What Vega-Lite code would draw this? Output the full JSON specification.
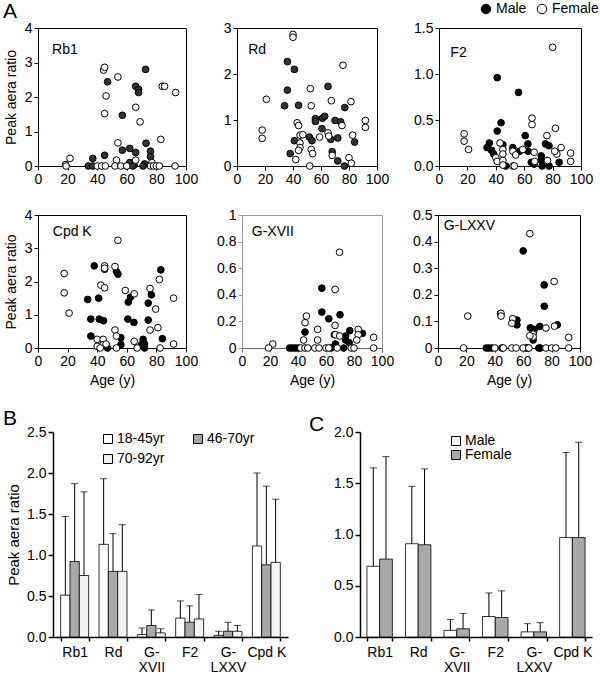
{
  "$schema": "https://vega.github.io/schema/vega-lite/v6.json",
  "padding": {"left": 2, "top": 0, "right": 0, "bottom": 0},
  "config": {
    "font": "Liberation Sans",
    "view": {"stroke": null},
    "axis": {"grid": false, "domainColor": "black", "tickColor": "black", "labelColor": "black", "titleColor": "black", "labelFontSize": 14, "titleFontSize": 14, "titleFontWeight": "normal", "tickSize": 4, "labelFlush": false, "labelOverlap": false, "labelPadding": 2, "labelFont": "Liberation Sans", "titleFont": "Liberation Sans"},
    "legend": {"labelFont": "Liberation Sans", "labelColor": "black", "labelFontSize": 14, "padding": 0},
    "title": {"font": "Liberation Sans", "fontWeight": "normal", "color": "black"}
  },
  "datasets": {
    "rb1": [
      {"sex":"Male","age":72.7,"ratio":2.80},{"sex":"Male","age":47,"ratio":2.44},{"sex":"Male","age":66,"ratio":2.31},{"sex":"Male","age":68,"ratio":2.22},{"sex":"Male","age":68,"ratio":2.13},{"sex":"Male","age":57,"ratio":1.47},{"sex":"Male","age":73,"ratio":0.66},{"sex":"Male","age":62,"ratio":0.51},{"sex":"Male","age":57,"ratio":0.46},{"sex":"Male","age":66,"ratio":0.39},{"sex":"Male","age":76,"ratio":0.43},{"sex":"Male","age":76,"ratio":0.27},{"sex":"Male","age":37,"ratio":0.22},{"sex":"Male","age":45,"ratio":0.31},{"sex":"Male","age":62,"ratio":0.10},{"sex":"Male","age":65,"ratio":0.03},{"sex":"Male","age":72,"ratio":0.06},{"sex":"Male","age":34,"ratio":0},{"sex":"Male","age":37,"ratio":0},{"sex":"Male","age":60,"ratio":0},{"sex":"Male","age":64,"ratio":0},{"sex":"Male","age":71,"ratio":0},
      {"sex":"Female","age":44.3,"ratio":2.78},{"sex":"Female","age":45,"ratio":2.86},{"sex":"Female","age":54,"ratio":2.58},{"sex":"Female","age":46,"ratio":2.03},{"sex":"Female","age":45,"ratio":1.52},{"sex":"Female","age":66,"ratio":1.70},{"sex":"Female","age":69,"ratio":1.28},{"sex":"Female","age":84,"ratio":2.31},{"sex":"Female","age":85.5,"ratio":2.31},{"sex":"Female","age":93,"ratio":2.13},{"sex":"Female","age":83,"ratio":0.77},{"sex":"Female","age":54,"ratio":0.67},{"sex":"Female","age":21.6,"ratio":0.22},{"sex":"Female","age":18.6,"ratio":0.04},{"sex":"Female","age":53,"ratio":0.17},{"sex":"Female","age":66,"ratio":0.17},{"sex":"Female","age":77,"ratio":0.10},{"sex":"Female","age":19,"ratio":0},{"sex":"Female","age":40,"ratio":0},{"sex":"Female","age":43,"ratio":0},{"sex":"Female","age":45.5,"ratio":0},{"sex":"Female","age":52,"ratio":0},{"sex":"Female","age":56,"ratio":0},{"sex":"Female","age":60,"ratio":0},{"sex":"Female","age":76,"ratio":0},{"sex":"Female","age":78,"ratio":0},{"sex":"Female","age":80,"ratio":0},{"sex":"Female","age":82,"ratio":0},{"sex":"Female","age":92.6,"ratio":0}
    ],
    "rd": [
      {"sex":"Male","age":36,"ratio":2.27},{"sex":"Male","age":41,"ratio":2.10},{"sex":"Male","age":36,"ratio":1.65},{"sex":"Male","age":34,"ratio":1.31},{"sex":"Male","age":44,"ratio":1.32},{"sex":"Male","age":65,"ratio":1.73},{"sex":"Male","age":77,"ratio":1.27},{"sex":"Male","age":56,"ratio":1.03},{"sex":"Male","age":56,"ratio":0.97},{"sex":"Male","age":61,"ratio":1.04},{"sex":"Male","age":62.6,"ratio":1.08},{"sex":"Male","age":70,"ratio":0.99},{"sex":"Male","age":74,"ratio":0.96},{"sex":"Male","age":60.7,"ratio":0.81},{"sex":"Male","age":41,"ratio":0.55},{"sex":"Male","age":51.7,"ratio":0.63},{"sex":"Male","age":53.6,"ratio":0.55},{"sex":"Male","age":67,"ratio":0.58},{"sex":"Male","age":72,"ratio":0.61},{"sex":"Male","age":84,"ratio":0.52},{"sex":"Male","age":38,"ratio":0.27},{"sex":"Male","age":68,"ratio":0.31},{"sex":"Male","age":72,"ratio":0.11},{"sex":"Male","age":76.7,"ratio":0},
      {"sex":"Female","age":40,"ratio":2.86},{"sex":"Female","age":40,"ratio":2.80},{"sex":"Female","age":75.7,"ratio":2.19},{"sex":"Female","age":21,"ratio":1.45},{"sex":"Female","age":52.4,"ratio":1.68},{"sex":"Female","age":53,"ratio":1.31},{"sex":"Female","age":67.4,"ratio":1.42},{"sex":"Female","age":81.4,"ratio":1.40},{"sex":"Female","age":18,"ratio":0.78},{"sex":"Female","age":18,"ratio":0.60},{"sex":"Female","age":91.7,"ratio":0.99},{"sex":"Female","age":91.7,"ratio":0.84},{"sex":"Female","age":43,"ratio":0.94},{"sex":"Female","age":44,"ratio":0.88},{"sex":"Female","age":75,"ratio":0.88},{"sex":"Female","age":45,"ratio":0.67},{"sex":"Female","age":47,"ratio":0.68},{"sex":"Female","age":45,"ratio":0.50},{"sex":"Female","age":45,"ratio":0.40},{"sex":"Female","age":44,"ratio":0.34},{"sex":"Female","age":53,"ratio":0.36},{"sex":"Female","age":54,"ratio":0.27},{"sex":"Female","age":42,"ratio":0.14},{"sex":"Female","age":59,"ratio":0.63},{"sex":"Female","age":65,"ratio":0.72},{"sex":"Female","age":65.5,"ratio":0.65},{"sex":"Female","age":68,"ratio":0.23},{"sex":"Female","age":82.6,"ratio":0.67},{"sex":"Female","age":80,"ratio":0.18},{"sex":"Female","age":81.7,"ratio":0.06},{"sex":"Female","age":52,"ratio":0}
    ],
    "f2": [
      {"sex":"Male","age":41,"ratio":0.96},{"sex":"Male","age":56,"ratio":0.80},{"sex":"Male","age":43.7,"ratio":0.47},{"sex":"Male","age":41,"ratio":0.38},{"sex":"Male","age":60.7,"ratio":0.33},{"sex":"Male","age":35.5,"ratio":0.25},{"sex":"Male","age":33.8,"ratio":0.20},{"sex":"Male","age":37,"ratio":0.17},{"sex":"Male","age":38.5,"ratio":0.13},{"sex":"Male","age":45,"ratio":0.23},{"sex":"Male","age":52,"ratio":0.20},{"sex":"Male","age":62.6,"ratio":0.24},{"sex":"Male","age":62.6,"ratio":0.16},{"sex":"Male","age":56.7,"ratio":0.16},{"sex":"Male","age":75,"ratio":0.24},{"sex":"Male","age":77.5,"ratio":0.22},{"sex":"Male","age":72,"ratio":0.11},{"sex":"Male","age":72,"ratio":0.06},{"sex":"Male","age":65,"ratio":0.04},{"sex":"Male","age":67,"ratio":0.02},{"sex":"Male","age":47,"ratio":0},{"sex":"Male","age":72.6,"ratio":0},{"sex":"Male","age":77.5,"ratio":0},{"sex":"Male","age":84.6,"ratio":0.04},
      {"sex":"Female","age":80,"ratio":1.29},{"sex":"Female","age":17.7,"ratio":0.35},{"sex":"Female","age":17.7,"ratio":0.27},{"sex":"Female","age":20.8,"ratio":0.18},{"sex":"Female","age":65.5,"ratio":0.52},{"sex":"Female","age":65.5,"ratio":0.45},{"sex":"Female","age":82,"ratio":0.41},{"sex":"Female","age":76,"ratio":0.33},{"sex":"Female","age":86,"ratio":0.20},{"sex":"Female","age":83,"ratio":0.13},{"sex":"Female","age":92.7,"ratio":0.14},{"sex":"Female","age":92.7,"ratio":0.05},{"sex":"Female","age":43,"ratio":0.25},{"sex":"Female","age":45,"ratio":0.18},{"sex":"Female","age":45,"ratio":0.13},{"sex":"Female","age":40,"ratio":0.09},{"sex":"Female","age":41,"ratio":0.05},{"sex":"Female","age":45,"ratio":0.06},{"sex":"Female","age":45,"ratio":0.01},{"sex":"Female","age":52,"ratio":0.16},{"sex":"Female","age":54,"ratio":0.12},{"sex":"Female","age":59,"ratio":0.18},{"sex":"Female","age":67,"ratio":0.15},{"sex":"Female","age":67.4,"ratio":0.05},{"sex":"Female","age":76.4,"ratio":0.06},{"sex":"Female","age":52,"ratio":0},{"sex":"Female","age":53,"ratio":0},{"sex":"Female","age":81.5,"ratio":0.16}
    ],
    "cpdk": [
      {"sex":"Male","age":38,"ratio":2.47},{"sex":"Male","age":45,"ratio":2.37},{"sex":"Male","age":53,"ratio":2.30},{"sex":"Male","age":54,"ratio":2.22},{"sex":"Male","age":83,"ratio":2.35},{"sex":"Male","age":33.6,"ratio":1.46},{"sex":"Male","age":41,"ratio":1.50},{"sex":"Male","age":61,"ratio":1.38},{"sex":"Male","age":62.5,"ratio":1.53},{"sex":"Male","age":74.5,"ratio":1.35},{"sex":"Male","age":76.6,"ratio":1.60},{"sex":"Male","age":35.7,"ratio":0.87},{"sex":"Male","age":41.4,"ratio":0.87},{"sex":"Male","age":44.3,"ratio":0.82},{"sex":"Male","age":60.7,"ratio":0.87},{"sex":"Male","age":64.8,"ratio":0.77},{"sex":"Male","age":74.5,"ratio":0.84},{"sex":"Male","age":35.7,"ratio":0.36},{"sex":"Male","age":56,"ratio":0.31},{"sex":"Male","age":56,"ratio":0.10},{"sex":"Male","age":47,"ratio":0},{"sex":"Male","age":71,"ratio":0.26},{"sex":"Male","age":72,"ratio":0.12},{"sex":"Male","age":70,"ratio":0.10},{"sex":"Male","age":72,"ratio":0},{"sex":"Male","age":84,"ratio":0.28},
      {"sex":"Female","age":54,"ratio":3.24},{"sex":"Female","age":17.7,"ratio":2.24},{"sex":"Female","age":17.7,"ratio":1.66},{"sex":"Female","age":21,"ratio":1.05},{"sex":"Female","age":45,"ratio":2.47},{"sex":"Female","age":45,"ratio":2.40},{"sex":"Female","age":52,"ratio":2.45},{"sex":"Female","age":42.5,"ratio":1.89},{"sex":"Female","age":45,"ratio":1.81},{"sex":"Female","age":59,"ratio":1.73},{"sex":"Female","age":65,"ratio":1.63},{"sex":"Female","age":82,"ratio":2.06},{"sex":"Female","age":75.7,"ratio":1.79},{"sex":"Female","age":79.5,"ratio":1.17},{"sex":"Female","age":91.6,"ratio":1.50},{"sex":"Female","age":75.7,"ratio":0.54},{"sex":"Female","age":52,"ratio":0.54},{"sex":"Female","age":53,"ratio":0.36},{"sex":"Female","age":81,"ratio":0.61},{"sex":"Female","age":40,"ratio":0.26},{"sex":"Female","age":44,"ratio":0.26},{"sex":"Female","age":44,"ratio":0.10},{"sex":"Female","age":40,"ratio":0.05},{"sex":"Female","age":46,"ratio":0.12},{"sex":"Female","age":42,"ratio":0},{"sex":"Female","age":53,"ratio":0},{"sex":"Female","age":65,"ratio":0.20},{"sex":"Female","age":67,"ratio":0},{"sex":"Female","age":82.5,"ratio":0},{"sex":"Female","age":91.6,"ratio":0.12}
    ],
    "gxvii": [
      {"sex":"Male","age":57,"ratio":0.45},{"sex":"Male","age":57,"ratio":0.27},{"sex":"Male","age":70,"ratio":0.25},{"sex":"Male","age":62,"ratio":0.22},{"sex":"Male","age":45,"ratio":0.12},{"sex":"Male","age":66,"ratio":0.10},{"sex":"Male","age":77,"ratio":0.13},{"sex":"Male","age":74,"ratio":0.09},{"sex":"Male","age":74,"ratio":0.06},{"sex":"Male","age":76.5,"ratio":0.04},{"sex":"Male","age":86,"ratio":0.11},{"sex":"Male","age":66.7,"ratio":0.03},{"sex":"Male","age":63.6,"ratio":0},{"sex":"Male","age":72.6,"ratio":0},{"sex":"Male","age":34,"ratio":0},{"sex":"Male","age":36,"ratio":0},{"sex":"Male","age":38,"ratio":0},{"sex":"Male","age":40,"ratio":0},
      {"sex":"Female","age":69.7,"ratio":0.72},{"sex":"Female","age":66.5,"ratio":0.44},{"sex":"Female","age":46,"ratio":0.24},{"sex":"Female","age":45,"ratio":0.19},{"sex":"Female","age":44,"ratio":0.06},{"sex":"Female","age":54,"ratio":0.14},{"sex":"Female","age":54,"ratio":0.06},{"sex":"Female","age":66.5,"ratio":0.17},{"sex":"Female","age":66.7,"ratio":0.10},{"sex":"Female","age":69.7,"ratio":0.09},{"sex":"Female","age":83,"ratio":0.14},{"sex":"Female","age":83,"ratio":0.10},{"sex":"Female","age":82,"ratio":0.06},{"sex":"Female","age":94,"ratio":0.08},{"sex":"Female","age":94,"ratio":0},{"sex":"Female","age":22,"ratio":0.03},{"sex":"Female","age":19,"ratio":0},{"sex":"Female","age":42,"ratio":0},{"sex":"Female","age":45,"ratio":0},{"sex":"Female","age":47,"ratio":0},{"sex":"Female","age":52,"ratio":0},{"sex":"Female","age":55,"ratio":0},{"sex":"Female","age":60,"ratio":0},{"sex":"Female","age":62,"ratio":0},{"sex":"Female","age":68,"ratio":0},{"sex":"Female","age":78,"ratio":0},{"sex":"Female","age":80,"ratio":0}
    ],
    "glxxv": [
      {"sex":"Male","age":60,"ratio":0.365},{"sex":"Male","age":74.8,"ratio":0.237},{"sex":"Male","age":74.8,"ratio":0.157},{"sex":"Male","age":44,"ratio":0.13},{"sex":"Male","age":55.6,"ratio":0.105},{"sex":"Male","age":55.6,"ratio":0.087},{"sex":"Male","age":65,"ratio":0.076},{"sex":"Male","age":67.8,"ratio":0.07},{"sex":"Male","age":67,"ratio":0.064},{"sex":"Male","age":71.7,"ratio":0.081},{"sex":"Male","age":84,"ratio":0.087},{"sex":"Male","age":67,"ratio":0.03},{"sex":"Male","age":34,"ratio":0},{"sex":"Male","age":36,"ratio":0},{"sex":"Male","age":38,"ratio":0},{"sex":"Male","age":45,"ratio":0},{"sex":"Male","age":62,"ratio":0},{"sex":"Male","age":63,"ratio":0},{"sex":"Male","age":71,"ratio":0},{"sex":"Male","age":72,"ratio":0},
      {"sex":"Female","age":64.7,"ratio":0.43},{"sex":"Female","age":81.8,"ratio":0.25},{"sex":"Female","age":21,"ratio":0.12},{"sex":"Female","age":44.4,"ratio":0.13},{"sex":"Female","age":44.4,"ratio":0.12},{"sex":"Female","age":52.6,"ratio":0.11},{"sex":"Female","age":52,"ratio":0.093},{"sex":"Female","age":82,"ratio":0.082},{"sex":"Female","age":76,"ratio":0.075},{"sex":"Female","age":92,"ratio":0.04},{"sex":"Female","age":67,"ratio":0.052},{"sex":"Female","age":67,"ratio":0.042},{"sex":"Female","age":64.7,"ratio":0.046},{"sex":"Female","age":18,"ratio":0},{"sex":"Female","age":40,"ratio":0},{"sex":"Female","age":46,"ratio":0},{"sex":"Female","age":52,"ratio":0},{"sex":"Female","age":55,"ratio":0},{"sex":"Female","age":60,"ratio":0},{"sex":"Female","age":64,"ratio":0},{"sex":"Female","age":76,"ratio":0},{"sex":"Female","age":80,"ratio":0},{"sex":"Female","age":83,"ratio":0},{"sex":"Female","age":92,"ratio":0}
    ],
    "byage": [
      {"cat":"Rb1","group":"18-45yr","mean":0.51,"upper":1.47},{"cat":"Rb1","group":"46-70yr","mean":0.92,"upper":1.87},{"cat":"Rb1","group":"70-92yr","mean":0.75,"upper":1.77},
      {"cat":"Rd","group":"18-45yr","mean":1.13,"upper":1.93},{"cat":"Rd","group":"46-70yr","mean":0.80,"upper":1.26},{"cat":"Rd","group":"70-92yr","mean":0.80,"upper":1.37},
      {"cat":"G-XVII","group":"18-45yr","mean":0.03,"upper":0.11},{"cat":"G-XVII","group":"46-70yr","mean":0.14,"upper":0.33},{"cat":"G-XVII","group":"70-92yr","mean":0.05,"upper":0.10},
      {"cat":"F2","group":"18-45yr","mean":0.23,"upper":0.44},{"cat":"F2","group":"46-70yr","mean":0.18,"upper":0.38},{"cat":"F2","group":"70-92yr","mean":0.22,"upper":0.52},
      {"cat":"G-LXXV","group":"18-45yr","mean":0.02,"upper":0.07},{"cat":"G-LXXV","group":"46-70yr","mean":0.07,"upper":0.18},{"cat":"G-LXXV","group":"70-92yr","mean":0.07,"upper":0.14},
      {"cat":"Cpd K","group":"18-45yr","mean":1.11,"upper":2.0},{"cat":"Cpd K","group":"46-70yr","mean":0.88,"upper":1.84},{"cat":"Cpd K","group":"70-92yr","mean":0.91,"upper":1.68}
    ],
    "bysex": [
      {"cat":"Rb1","sex":"Male","mean":0.69,"upper":1.65},{"cat":"Rb1","sex":"Female","mean":0.76,"upper":1.76},
      {"cat":"Rd","sex":"Male","mean":0.91,"upper":1.47},{"cat":"Rd","sex":"Female","mean":0.90,"upper":1.64},
      {"cat":"G-XVII","sex":"Male","mean":0.065,"upper":0.17},{"cat":"G-XVII","sex":"Female","mean":0.08,"upper":0.23},
      {"cat":"F2","sex":"Male","mean":0.20,"upper":0.43},{"cat":"F2","sex":"Female","mean":0.19,"upper":0.45},
      {"cat":"G-LXXV","sex":"Male","mean":0.05,"upper":0.13},{"cat":"G-LXXV","sex":"Female","mean":0.05,"upper":0.14},
      {"cat":"Cpd K","sex":"Male","mean":0.97,"upper":1.80},{"cat":"Cpd K","sex":"Female","mean":0.97,"upper":1.90}
    ]
  },
  "columns": 1,
  "align": "none",
  "spacing": 20,
  "resolve": {"scale": {"fill": "independent", "x": "independent", "y": "independent", "xOffset": "independent"}, "legend": {"fill": "independent"}},
  "concat": [
    {
      "spacing": 23,
      "resolve": {"scale": {"fill": "independent", "x": "independent", "y": "independent"}, "legend": {"fill": "independent"}},
      "hconcat": [
        {
          "width": 148, "height": 138,
          "view": {"stroke": "black"},
          "title": {"text": "A", "anchor": "start", "frame": "group", "dx": -35, "fontSize": 21, "offset": -1},
          "layer": [
            {"data": {"name": "rb1"}, "mark": {"type": "point", "filled": true, "size": 45, "opacity": 1, "stroke": "black", "strokeWidth": 1},
             "encoding": {
               "x": {"field": "age", "type": "quantitative", "scale": {"domain": [0, 100], "nice": false}, "axis": {"values": [0, 20, 40, 60, 80, 100], "title": null, "labelOverlap": false}},
               "y": {"field": "ratio", "type": "quantitative", "scale": {"domain": [0, 4], "nice": false}, "axis": {"values": [0, 1, 2, 3, 4], "title": "Peak aera ratio", "titlePadding": 6, "labelOverlap": false}},
               "fill": {"field": "sex", "type": "nominal", "scale": {"domain": ["Male", "Female"], "range": ["#333333", "white"]}, "legend": null}}},
            {"data": {"values": [{"panel": "Rb1"}]}, "mark": {"type": "text", "align": "left", "baseline": "middle", "fontSize": 14},
             "encoding": {"x": {"datum": 9.5, "type": "quantitative", "axis": {"values": [0, 20, 40, 60, 80, 100], "title": null, "labelOverlap": false}}, "y": {"datum": 3.36, "type": "quantitative", "axis": {"values": [0, 1, 2, 3, 4], "title": "Peak aera ratio", "titlePadding": 6, "labelOverlap": false}}, "text": {"field": "panel"}}}
          ]
        },
        {
          "width": 140, "height": 138,
          "view": {"stroke": "black"},
          "layer": [
            {"data": {"name": "rd"}, "mark": {"type": "point", "filled": true, "size": 45, "opacity": 1, "stroke": "black", "strokeWidth": 1},
             "encoding": {
               "x": {"field": "age", "type": "quantitative", "scale": {"domain": [0, 100], "nice": false}, "axis": {"values": [0, 20, 40, 60, 80, 100], "title": null, "labelOverlap": false}},
               "y": {"field": "ratio", "type": "quantitative", "scale": {"domain": [0, 3], "nice": false}, "axis": {"values": [0, 1, 2, 3], "title": null, "labelOverlap": false}},
               "fill": {"field": "sex", "type": "nominal", "scale": {"domain": ["Male", "Female"], "range": ["#333333", "white"]}, "legend": null}}},
            {"data": {"values": [{"panel": "Rd"}]}, "mark": {"type": "text", "align": "left", "baseline": "middle", "fontSize": 14},
             "encoding": {"x": {"datum": 8, "type": "quantitative", "axis": {"values": [0, 20, 40, 60, 80, 100], "title": null, "labelOverlap": false}}, "y": {"datum": 2.52, "type": "quantitative", "axis": {"values": [0, 1, 2, 3], "title": null, "labelOverlap": false}}, "text": {"field": "panel"}}}
          ]
        },
        {
          "width": 142, "height": 138,
          "view": {"stroke": "black"},
          "layer": [
            {"data": {"name": "f2"}, "mark": {"type": "point", "filled": true, "size": 45, "opacity": 1, "stroke": "black", "strokeWidth": 1},
             "encoding": {
               "x": {"field": "age", "type": "quantitative", "scale": {"domain": [0, 100], "nice": false}, "axis": {"values": [0, 20, 40, 60, 80, 100], "title": null, "labelOverlap": false}},
               "y": {"field": "ratio", "type": "quantitative", "scale": {"domain": [0, 1.5], "nice": false}, "axis": {"values": [0, 0.5, 1, 1.5], "format": ".1f", "title": null, "labelOverlap": false}},
               "fill": {"field": "sex", "type": "nominal", "scale": {"domain": ["Male", "Female"], "range": ["black", "white"]},
                        "legend": {"orient": "none", "legendX": 40, "legendY": -26, "direction": "horizontal", "title": null, "symbolType": "circle", "symbolSize": 90, "symbolStrokeColor": "black", "symbolStrokeWidth": 1, "labelFontSize": 14, "columnPadding": 8, "labelOffset": 3}}}},
            {"data": {"values": [{"panel": "F2"}]}, "mark": {"type": "text", "align": "left", "baseline": "middle", "fontSize": 14},
             "encoding": {"x": {"datum": 8, "type": "quantitative", "axis": {"values": [0, 20, 40, 60, 80, 100], "title": null, "labelOverlap": false}}, "y": {"datum": 1.23, "type": "quantitative", "axis": {"values": [0, 0.5, 1, 1.5], "format": ".1f", "title": null, "labelOverlap": false}}, "text": {"field": "panel"}}}
          ]
        }
      ]
    },
    {
      "spacing": 17,
      "resolve": {"scale": {"fill": "independent", "x": "independent", "y": "independent"}, "legend": {"fill": "independent"}},
      "hconcat": [
        {
          "width": 148, "height": 133,
          "view": {"stroke": "black"},
          "layer": [
            {"data": {"name": "cpdk"}, "mark": {"type": "point", "filled": true, "size": 45, "opacity": 1, "stroke": "black", "strokeWidth": 1},
             "encoding": {
               "x": {"field": "age", "type": "quantitative", "scale": {"domain": [0, 100], "nice": false}, "axis": {"values": [0, 20, 40, 60, 80, 100], "title": "Age (y)", "titlePadding": 5, "labelOverlap": false}},
               "y": {"field": "ratio", "type": "quantitative", "scale": {"domain": [0, 4], "nice": false}, "axis": {"values": [0, 1, 2, 3, 4], "title": "Peak aera ratio", "titlePadding": 6, "labelOverlap": false}},
               "fill": {"field": "sex", "type": "nominal", "scale": {"domain": ["Male", "Female"], "range": ["black", "white"]}, "legend": null}}},
            {"data": {"values": [{"panel": "Cpd K"}]}, "mark": {"type": "text", "align": "left", "baseline": "middle", "fontSize": 14},
             "encoding": {"x": {"datum": 10, "type": "quantitative", "axis": {"values": [0, 20, 40, 60, 80, 100], "title": "Age (y)", "titlePadding": 5, "labelOverlap": false}}, "y": {"datum": 3.49, "type": "quantitative", "axis": {"values": [0, 1, 2, 3, 4], "title": "Peak aera ratio", "titlePadding": 6, "labelOverlap": false}}, "text": {"field": "panel"}}}
          ]
        },
        {
          "width": 140, "height": 133,
          "view": {"stroke": "#999999"},
          "layer": [
            {"data": {"name": "gxvii"}, "mark": {"type": "point", "filled": true, "size": 45, "opacity": 1, "stroke": "black", "strokeWidth": 1},
             "encoding": {
               "x": {"field": "age", "type": "quantitative", "scale": {"domain": [0, 100], "nice": false}, "axis": {"values": [0, 20, 40, 60, 80, 100], "title": "Age (y)", "titlePadding": 5, "labelOverlap": false, "domainColor": "#666666", "tickColor": "#666666"}},
               "y": {"field": "ratio", "type": "quantitative", "scale": {"domain": [0, 1], "nice": false}, "axis": {"values": [0, 0.2, 0.4, 0.6, 0.8, 1], "format": "~g", "title": null, "labelOverlap": false, "domainColor": "#999999", "tickColor": "#999999"}},
               "fill": {"field": "sex", "type": "nominal", "scale": {"domain": ["Male", "Female"], "range": ["black", "white"]}, "legend": null}}},
            {"data": {"values": [{"panel": "G-XVII"}]}, "mark": {"type": "text", "align": "left", "baseline": "middle", "fontSize": 14},
             "encoding": {"x": {"datum": 7, "type": "quantitative", "axis": {"values": [0, 20, 40, 60, 80, 100], "title": "Age (y)", "titlePadding": 5, "labelOverlap": false, "domainColor": "#666666", "tickColor": "#666666"}}, "y": {"datum": 0.87, "type": "quantitative", "axis": {"values": [0, 0.2, 0.4, 0.6, 0.8, 1], "format": "~g", "title": null, "labelOverlap": false, "domainColor": "#999999", "tickColor": "#999999"}}, "text": {"field": "panel"}}}
          ]
        },
        {
          "width": 142, "height": 133,
          "view": {"stroke": "black"},
          "layer": [
            {"data": {"name": "glxxv"}, "mark": {"type": "point", "filled": true, "size": 45, "opacity": 1, "stroke": "black", "strokeWidth": 1},
             "encoding": {
               "x": {"field": "age", "type": "quantitative", "scale": {"domain": [0, 100], "nice": false}, "axis": {"values": [0, 20, 40, 60, 80, 100], "title": "Age (y)", "titlePadding": 5, "labelOverlap": false}},
               "y": {"field": "ratio", "type": "quantitative", "scale": {"domain": [0, 0.5], "nice": false}, "axis": {"values": [0, 0.1, 0.2, 0.3, 0.4, 0.5], "format": "~g", "title": null, "labelOverlap": false}},
               "fill": {"field": "sex", "type": "nominal", "scale": {"domain": ["Male", "Female"], "range": ["black", "white"]}, "legend": null}}},
            {"data": {"values": [{"panel": "G-LXXV"}]}, "mark": {"type": "text", "align": "left", "baseline": "middle", "fontSize": 14},
             "encoding": {"x": {"datum": 4, "type": "quantitative", "axis": {"values": [0, 20, 40, 60, 80, 100], "title": "Age (y)", "titlePadding": 5, "labelOverlap": false}}, "y": {"datum": 0.46, "type": "quantitative", "axis": {"values": [0, 0.1, 0.2, 0.3, 0.4, 0.5], "format": "~g", "title": null, "labelOverlap": false}}, "text": {"field": "panel"}}}
          ]
        }
      ]
    },
    {
      "spacing": 21,
      "resolve": {"scale": {"fill": "independent", "x": "independent", "y": "independent", "xOffset": "independent"}, "legend": {"fill": "independent"}},
      "hconcat": [
        {
          "width": 250, "height": 205,
          "data": {"name": "byage"},
          "title": {"text": "B", "anchor": "start", "frame": "group", "dx": -35, "fontSize": 21, "offset": -4},
          "encoding": {
            "x": {"field": "cat", "type": "nominal", "sort": ["Rb1", "Rd", "G-XVII", "F2", "G-LXXV", "Cpd K"], "scale": {"range": [15, 250], "paddingInner": 0.27, "paddingOuter": 0.2},
                  "axis": {"title": null, "labelAngle": 0, "tickBand": "extent", "domainWidth": 1.5, "tickWidth": 1.5, "tickSize": 4, "labelPadding": 4, "labelLineHeight": 15,
                           "labelExpr": "datum.value == 'G-XVII' ? ['G-', 'XVII'] : datum.value == 'G-LXXV' ? ['G-', 'LXXV'] : datum.value"}},
            "xOffset": {"field": "group", "type": "nominal", "sort": ["18-45yr", "46-70yr", "70-92yr"], "scale": {"paddingInner": 0}}
          },
          "layer": [
            {"mark": {"type": "bar", "stroke": "black", "strokeWidth": 0.8},
             "encoding": {
               "y": {"field": "mean", "type": "quantitative", "scale": {"domain": [0, 2.5], "nice": false},
                     "axis": {"values": [0, 0.5, 1, 1.5, 2, 2.5], "format": ".1f", "title": "Peak aera ratio", "titleFontSize": 15, "titlePadding": 5, "domainWidth": 1.5, "tickWidth": 1.5, "tickSize": 5, "labelOverlap": false, "offset": -15}},
               "fill": {"field": "group", "type": "nominal", "scale": {"domain": ["18-45yr", "70-92yr", "46-70yr"], "range": ["white", "#f2f2f2", "#a9a9a9"]},
                        "legend": {"orient": "none", "legendX": 63, "legendY": 0, "columns": 2, "title": null, "symbolType": "square", "symbolSize": 80, "symbolStrokeColor": "black", "symbolStrokeWidth": 1, "labelFontSize": 14, "columnPadding": 26, "rowPadding": 6, "labelOffset": 2}}}},
            {"mark": {"type": "rule", "color": "black", "strokeWidth": 1},
             "encoding": {"y": {"field": "mean", "type": "quantitative"}, "y2": {"field": "upper"}}},
            {"mark": {"type": "tick", "color": "black", "thickness": 1, "size": 7},
             "encoding": {"y": {"field": "upper", "type": "quantitative"}}}
          ]
        },
        {
          "width": 232, "height": 205,
          "data": {"name": "bysex"},
          "title": {"text": "C", "anchor": "start", "frame": "group", "dx": -51, "fontSize": 21, "offset": -10},
          "encoding": {
            "x": {"field": "cat", "type": "nominal", "sort": ["Rb1", "Rd", "G-XVII", "F2", "G-LXXV", "Cpd K"], "scale": {"paddingInner": 0.34, "paddingOuter": 0.18},
                  "axis": {"title": null, "labelAngle": 0, "tickBand": "extent", "domainWidth": 1.5, "tickWidth": 1.5, "tickSize": 4, "labelPadding": 4, "labelLineHeight": 15,
                           "labelExpr": "datum.value == 'G-XVII' ? ['G-', 'XVII'] : datum.value == 'G-LXXV' ? ['G-', 'LXXV'] : datum.value"}},
            "xOffset": {"field": "sex", "type": "nominal", "sort": ["Male", "Female"], "scale": {"paddingInner": 0}}
          },
          "layer": [
            {"mark": {"type": "bar", "stroke": "black", "strokeWidth": 0.8},
             "encoding": {
               "y": {"field": "mean", "type": "quantitative", "scale": {"domain": [0, 2], "nice": false},
                     "axis": {"values": [0, 0.5, 1, 1.5, 2], "format": ".1f", "title": null, "domainWidth": 1.5, "tickWidth": 1.5, "tickSize": 5, "labelOverlap": false}},
               "fill": {"field": "sex", "type": "nominal", "scale": {"domain": ["Male", "Female"], "range": ["white", "#a9a9a9"]},
                        "legend": {"orient": "none", "legendX": 89, "legendY": 2, "columns": 1, "title": null, "symbolType": "square", "symbolSize": 80, "symbolStrokeColor": "black", "symbolStrokeWidth": 1, "labelFontSize": 14, "rowPadding": 0, "labelOffset": 2}}}},
            {"mark": {"type": "rule", "color": "black", "strokeWidth": 1},
             "encoding": {"y": {"field": "mean", "type": "quantitative"}, "y2": {"field": "upper"}}},
            {"mark": {"type": "tick", "color": "black", "thickness": 1, "size": 7},
             "encoding": {"y": {"field": "upper", "type": "quantitative"}}}
          ]
        }
      ]
    }
  ]
}
